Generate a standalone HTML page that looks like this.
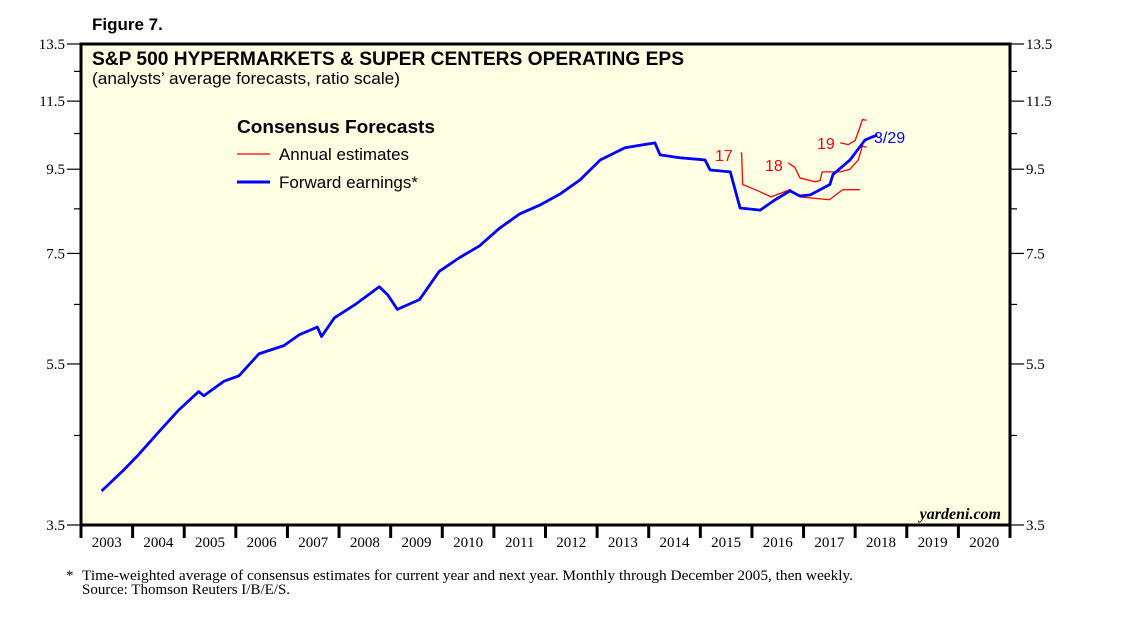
<!DOCTYPE html>
<html><head><meta charset="utf-8"><style>
body{margin:0;background:#fff;}
svg text{font-family:"Liberation Sans",sans-serif;}
.serif{font-family:"Liberation Serif",serif;}
</style></head><body>
<svg id="chart" width="1138" height="621" xmlns="http://www.w3.org/2000/svg">
<text x="92" y="30" font-size="17" font-weight="bold">Figure 7.</text>
<rect x="81" y="44" width="929" height="481" fill="#ffffe4" stroke="#000" stroke-width="3"/>
<text x="92" y="65" font-size="19" font-weight="bold" textLength="592" lengthAdjust="spacingAndGlyphs">S&amp;P 500 HYPERMARKETS &amp; SUPER CENTERS OPERATING EPS</text>
<text x="92" y="84" font-size="17" textLength="308" lengthAdjust="spacingAndGlyphs">(analysts’ average forecasts, ratio scale)</text>
<text x="237" y="133" font-size="18" font-weight="bold" textLength="198" lengthAdjust="spacingAndGlyphs">Consensus Forecasts</text>
<line x1="237" y1="154" x2="270" y2="154" stroke="#ff0000" stroke-width="1.2"/>
<text x="279" y="160" font-size="17" textLength="130" lengthAdjust="spacingAndGlyphs">Annual estimates</text>
<line x1="237" y1="182" x2="270" y2="182" stroke="#0000ff" stroke-width="3"/>
<text x="279" y="188" font-size="17" textLength="139" lengthAdjust="spacingAndGlyphs">Forward earnings*</text>
<text x="1001" y="519" font-size="16" font-weight="bold" font-style="italic" text-anchor="end" class="serif">yardeni.com</text>
<g id="axes"></g>
<g id="series"></g>
<text x="715" y="161" font-size="16" fill="#ff0000">17</text>
<text x="765" y="171" font-size="16" fill="#ff0000">18</text>
<text x="817" y="149" font-size="16" fill="#ff0000">19</text>
<text x="874" y="143" font-size="16" fill="#0000ff">3/29</text>
<text x="66" y="580" font-size="15" class="serif">*</text>
<text x="82" y="580" font-size="15" class="serif" textLength="771" lengthAdjust="spacingAndGlyphs">Time-weighted average of consensus estimates for current year and next year. Monthly through December 2005, then weekly.</text>
<text x="82" y="594" font-size="15" class="serif">Source: Thomson Reuters I/B/E/S.</text>
</svg>
<script>
const yTicks=[3.5,5.5,7.5,9.5,11.5,13.5];
const yMinor=[4.5,6.5,8.5,10.5,12.5];
const years=[2003,2004,2005,2006,2007,2008,2009,2010,2011,2012,2013,2014,2015,2016,2017,2018,2019,2020];
const fwdDates=[2003.4,2003.82,2004.11,2004.5,2004.89,2005.28,2005.38,2005.77,2006.06,2006.45,2006.93,2007.23,2007.58,2007.66,2007.91,2008.3,2008.78,2008.94,2009.13,2009.56,2009.94,2010.33,2010.72,2011.11,2011.5,2011.89,2012.28,2012.67,2013.06,2013.54,2014.12,2014.22,2014.6,2015.09,2015.19,2015.58,2015.77,2016.16,2016.45,2016.74,2016.93,2017.13,2017.51,2017.57,2017.9,2018.19,2018.33,2018.43];
const fwdValues=[3.85,4.08,4.26,4.54,4.83,5.09,5.03,5.24,5.32,5.66,5.79,5.97,6.10,5.94,6.26,6.49,6.83,6.68,6.41,6.59,7.13,7.41,7.66,8.05,8.38,8.59,8.86,9.22,9.75,10.09,10.23,9.89,9.81,9.75,9.48,9.43,8.52,8.47,8.72,8.94,8.81,8.84,9.10,9.36,9.75,10.31,10.40,10.45];
const e17Dates=[2015.78,2015.8,2015.82,2016.1,2016.37,2016.74,2016.93,2017.5,2017.76,2018.09];
const e17Values=[9.94,9.94,9.10,8.95,8.79,8.97,8.79,8.72,8.97,8.97];
const e18Dates=[2016.70,2016.83,2016.93,2017.22,2017.32,2017.36,2017.71,2017.9,2018.06,2018.14,2018.22];
const e18Values=[9.67,9.55,9.27,9.17,9.20,9.43,9.43,9.50,9.75,10.14,10.10];
const e19Dates=[2017.71,2017.87,2018.0,2018.09,2018.14,2018.22];
const e19Values=[10.23,10.18,10.30,10.68,10.92,10.90];
const L=81,R=1010,T=44,B=525,X0=2003,X1=2021,YMIN=3.5,YMAX=13.5;
const sx=d=>L+(d-X0)/(X1-X0)*(R-L);
const sy=v=>B-Math.log(v/YMIN)/Math.log(YMAX/YMIN)*(B-T);
const NS="http://www.w3.org/2000/svg";
const ax=document.getElementById('axes'),se=document.getElementById('series');
function mk(tag,at,parent){const e=document.createElementNS(NS,tag);for(const k in at)e.setAttribute(k,at[k]);parent.appendChild(e);return e;}
yTicks.forEach(v=>{const y=sy(v);
 let t=mk('line',{x1:L-14,x2:L,y1:y,y2:y,stroke:'#000','stroke-width':1.2},ax);
 
 
 t=mk('line',{x1:R,x2:R+14,y1:y,y2:y,stroke:'#000','stroke-width':1.2},ax);
 
 
 let a=mk('text',{x:L-16,y:y+5,'font-size':15,'text-anchor':'end','class':'serif'},ax);a.textContent=v.toFixed(1);
 
 
 a=mk('text',{x:R+16,y:y+5,'font-size':15,'class':'serif'},ax);a.textContent=v.toFixed(1);
 
 
});
yMinor.forEach(v=>{const y=sy(v);
 let t=mk('line',{x1:L-7,x2:L,y1:y,y2:y,stroke:'#000','stroke-width':1.2},ax);
 
 
 t=mk('line',{x1:R,x2:R+7,y1:y,y2:y,stroke:'#000','stroke-width':1.2},ax);
 
 
});
years.forEach(yr=>{const x=sx(yr);
 const t=mk('line',{x1:x,x2:x,y1:B,y2:B+13,stroke:'#000','stroke-width':3},ax);
 
 
 const a=mk('text',{x:sx(yr+0.5),y:B+22,'font-size':15,'text-anchor':'middle','class':'serif'},ax);a.textContent=yr;
 
 
});
const et=mk('line',{x1:R,x2:R,y1:B,y2:B+13,stroke:'#000','stroke-width':3},ax);


function line(ds,vs,col,w,name){
 const p=mk('polyline',{points:ds.map((d,i)=>sx(d)+','+sy(vs[i])).join(' '),fill:'none',stroke:col,'stroke-width':w,'stroke-linejoin':'round'},se);
 
 
}
line(e17Dates,e17Values,'#ff0000',1.3,'annual-estimate-2017');
line(e18Dates,e18Values,'#ff0000',1.3,'annual-estimate-2018');
line(e19Dates,e19Values,'#ff0000',1.3,'annual-estimate-2019');
line(fwdDates,fwdValues,'#0000ff',2.8,'forward-earnings-line');
</script>
</body></html>
